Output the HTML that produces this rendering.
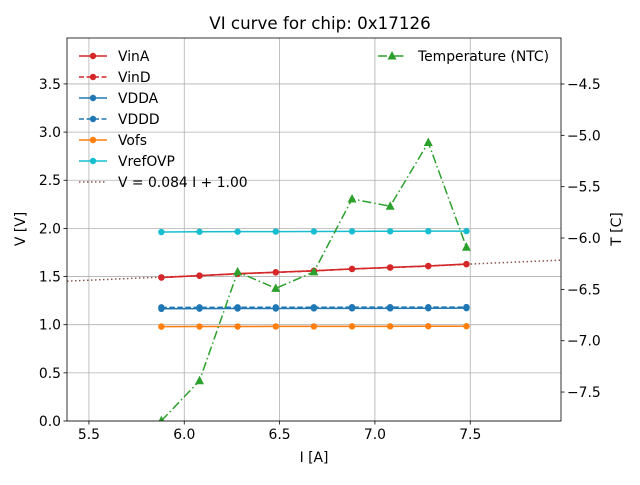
<!DOCTYPE html>
<html><head><meta charset="utf-8"><style>
body{margin:0;background:#fff}
svg text{font-family:"DejaVu Sans","Liberation Sans",sans-serif;fill:#000}
</style></head><body>
<svg id="c" width="640" height="480" xmlns="http://www.w3.org/2000/svg"></svg>
<script>
const currents=[5.88,6.08,6.28,6.48,6.68,6.88,7.08,7.28,7.48];
const vinA=[1.49,1.51,1.53,1.545,1.56,1.58,1.595,1.61,1.63];
const vinD=[1.49,1.508,1.528,1.543,1.558,1.578,1.593,1.608,1.628];
const vdda=[1.165,1.167,1.168,1.168,1.169,1.17,1.17,1.171,1.172];
const vddd=[1.18,1.18,1.181,1.181,1.181,1.182,1.182,1.182,1.183];
const vofs=[0.98,0.981,0.981,0.982,0.982,0.983,0.983,0.984,0.984];
const vref=[1.962,1.965,1.966,1.967,1.968,1.969,1.97,1.971,1.972];
const temps=[-7.78,-7.39,-6.33,-6.49,-6.33,-5.62,-5.69,-5.07,-6.09];
const fitSlope=0.084, fitIntercept=1.00;
const xTicks=[5.5,6.0,6.5,7.0,7.5];
const yTicks=[0,0.5,1.0,1.5,2.0,2.5,3.0,3.5];
const tTicks=[-7.5,-7.0,-6.5,-6.0,-5.5,-5.0,-4.5];

const L=67,R=561,T=38,B=421;
const xmin=5.385,xmax=7.976,ymin=0,ymax=3.977,tmin=-7.782,tmax=-4.052;
const X=v=>L+(v-xmin)/(xmax-xmin)*(R-L);
const Y=v=>B-(v-ymin)/(ymax-ymin)*(B-T);
const TY=v=>B-(v-tmin)/(tmax-tmin)*(B-T);
const svg=document.getElementById('c');
const NS='http://www.w3.org/2000/svg';
const FS=13.9;
function mk(tag,attrs,parent){const e=document.createElementNS(NS,tag);for(const k in attrs)e.setAttribute(k,attrs[k]);(parent||svg).appendChild(e);return e;}
function txt(s,x,y,anchor,size,parent){const e=mk('text',{x:x,y:y,'text-anchor':anchor,'font-size':size},parent);e.textContent=s;return e;}

txt('VI curve for chip: 0x17126',320,29,'middle',16.7);
const grid=mk('g',{});


xTicks.forEach(v=>{mk('line',{x1:X(v),x2:X(v),y1:T,y2:B,stroke:'#b0b0b0','stroke-width':0.8},grid);
 mk('line',{x1:X(v),x2:X(v),y1:B,y2:B+3.5,stroke:'#000','stroke-width':0.8});
 const t=txt(v.toFixed(1),X(v),B+18,'middle',FS);});
yTicks.forEach(v=>{mk('line',{x1:L,x2:R,y1:Y(v),y2:Y(v),stroke:'#b0b0b0','stroke-width':0.8},grid);
 mk('line',{x1:L-3.5,x2:L,y1:Y(v),y2:Y(v),stroke:'#000','stroke-width':0.8});
 const t=txt(v.toFixed(1),L-6,Y(v)+5,'end',FS);});
tTicks.forEach(v=>{mk('line',{x1:R,x2:R+3.5,y1:TY(v),y2:TY(v),stroke:'#000','stroke-width':0.8});
 const t=txt('\u2212'+Math.abs(v).toFixed(1),R+6,TY(v)+5,'start',FS);});
txt('I [A]',314,462,'middle',FS);
const yl=txt('V [V]',0,0,'middle',FS);yl.setAttribute('transform','translate(25,229) rotate(-90)');
const tl=txt('T [C]',0,0,'middle',FS);tl.setAttribute('transform','translate(621,229) rotate(-90)');

const clip=mk('clipPath',{id:'pc'});mk('rect',{x:L,y:T,width:R-L,height:B-T},clip);
const plot=mk('g',{'clip-path':'url(#pc)'});
function series(name,vals,yf,color,dash,marker){
 const g=mk('g',{},plot);
 
 
 const pts=currents.map((c,i)=>X(c)+','+yf(vals[i])).join(' ');
 mk('polyline',{points:pts,fill:'none',stroke:color,'stroke-width':1.5,'stroke-dasharray':dash||'none'},g);
 currents.forEach((c,i)=>{
  if(marker==='tri'){const x=X(c),y=yf(vals[i]);mk('polygon',{points:`${x},${y-5} ${x-4.5},${y+3.5} ${x+4.5},${y+3.5}`,fill:color},g);}
  else mk('circle',{cx:X(c),cy:yf(vals[i]),r:3.2,fill:color},g);
 });
}
const fit=mk('line',{x1:X(xmin),y1:Y(fitSlope*xmin+fitIntercept),x2:X(xmax),y2:Y(fitSlope*xmax+fitIntercept),stroke:'#8c564b','stroke-width':1.5,'stroke-dasharray':'1.5,2.5'},plot);

series('vofs-series',vofs,Y,'#ff7f0e');
series('vddd-series',vddd,Y,'#1f77b4','5.5,2.5');
series('vdda-series',vdda,Y,'#1f77b4');
series('vind-series',vinD,Y,'#d62728','5.5,2.5');
series('vina-series',vinA,Y,'#d62728');
series('vrefovp-series',vref,Y,'#17becf');
series('temperature-series',temps,TY,'#2ca02c','9,3,1.5,3','tri');
mk('rect',{x:L,y:T,width:R-L,height:B-T,fill:'none',stroke:'#000','stroke-width':0.8});

const leg=[['VinA','#d62728','',0],['VinD','#d62728','5,2.5',0],['VDDA','#1f77b4','',0],['VDDD','#1f77b4','5,2.5',0],['Vofs','#ff7f0e','',0],['VrefOVP','#17becf','',0],['V = 0.084 I + 1.00','#8c564b','1.5,2.5',1]];
leg.forEach((e,i)=>{const y=56+i*21;const g=mk('g',{});
 
 
 mk('line',{x1:79,x2:107,y1:y,y2:y,stroke:e[1],'stroke-width':1.5,'stroke-dasharray':e[2]||'none'},g);
 if(!e[3])mk('circle',{cx:93,cy:y,r:3.2,fill:e[1]},g);
 txt(e[0],118,y+5,'start',FS,g);});
const g2=mk('g',{});


mk('line',{x1:378,x2:406,y1:56,y2:56,stroke:'#2ca02c','stroke-width':1.5,'stroke-dasharray':'9,3,1.5,3'},g2);
mk('polygon',{points:'392,51 387.5,59.5 396.5,59.5',fill:'#2ca02c'},g2);
txt('Temperature (NTC)',418,61,'start',FS,g2);
</script>
</body></html>
